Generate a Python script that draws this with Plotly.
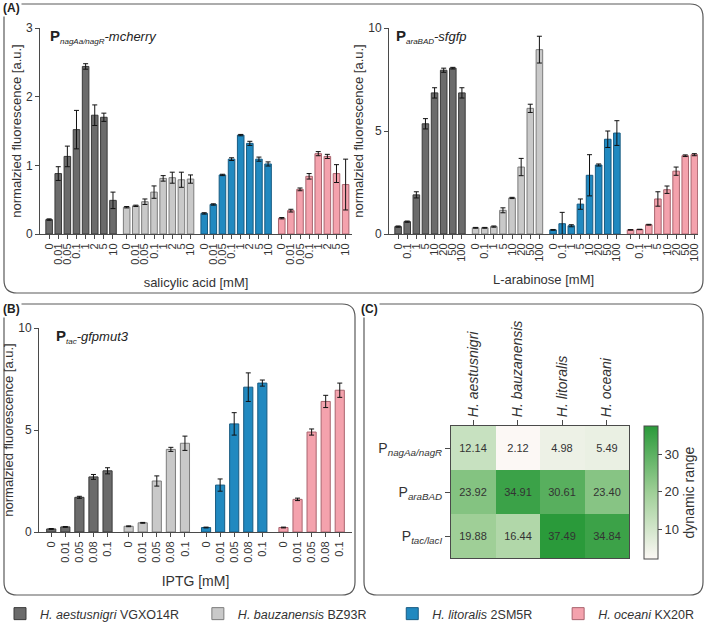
import plotly.graph_objects as go

W, H = 709, 633

# ---------------- data ----------------
strain_names = ["<i>H. aestusnigri</i> VGXO14R", "<i>H. bauzanensis</i> BZ93R",
                "<i>H. litoralis</i> 2SM5R", "<i>H. oceani</i> KX20R"]
legend_pad = [4, 6, 6]  # extra spacing (non-breaking spaces) after legend labels
fill_colors = ["#6b6b6b", "#c9c9c9", "#2189c0", "#f4a2ad"]
edge_colors = ["#3a3a3a", "#7c7c7c", "#185b82", "#a9646e"]

# (A) salicylic acid
sal_conc = ["0", "0.01", "0.05", "0.1", "1", "2", "5", "10"]
sal_aestusnigri = [0.21, 0.88, 1.13, 1.52, 2.44, 1.73, 1.70, 0.49]
sal_aestusnigri_err = [0.01, 0.10, 0.15, 0.28, 0.04, 0.15, 0.06, 0.12]
sal_bauzanensis = [0.39, 0.41, 0.47, 0.61, 0.81, 0.82, 0.79, 0.80]
sal_bauzanensis_err = [0.01, 0.01, 0.04, 0.09, 0.04, 0.08, 0.11, 0.06]
sal_litoralis = [0.30, 0.43, 0.86, 1.09, 1.44, 1.32, 1.09, 1.02]
sal_litoralis_err = [0.01, 0.01, 0.01, 0.02, 0.01, 0.03, 0.03, 0.03]
sal_oceani = [0.23, 0.34, 0.65, 0.84, 1.17, 1.13, 0.88, 0.72]
sal_oceani_err = [0.01, 0.02, 0.02, 0.04, 0.03, 0.03, 0.13, 0.37]

# (A) L-arabinose
ara_conc = ["0", "0.1", "1", "5", "10", "20", "50", "100"]
ara_aestusnigri = [0.36, 0.60, 1.90, 5.35, 6.85, 7.95, 8.05, 6.85]
ara_aestusnigri_err = [0.03, 0.03, 0.15, 0.25, 0.25, 0.10, 0.04, 0.25]
ara_bauzanensis = [0.30, 0.30, 0.36, 1.15, 1.75, 3.25, 6.10, 8.95]
ara_bauzanensis_err = [0.02, 0.02, 0.03, 0.12, 0.03, 0.42, 0.20, 0.65]
ara_litoralis = [0.20, 0.50, 0.40, 1.45, 2.85, 3.35, 4.60, 4.90]
ara_litoralis_err = [0.02, 0.55, 0.05, 0.25, 1.00, 0.05, 0.40, 0.60]
ara_oceani = [0.20, 0.22, 0.45, 1.70, 2.15, 3.05, 3.80, 3.85]
ara_oceani_err = [0.01, 0.01, 0.02, 0.35, 0.18, 0.20, 0.04, 0.05]

# (B) IPTG
iptg_conc = ["0", "0.01", "0.05", "0.08", "0.1"]
iptg_aestusnigri = [0.15, 0.25, 1.70, 2.70, 3.00]
iptg_aestusnigri_err = [0.02, 0.02, 0.05, 0.12, 0.15]
iptg_bauzanensis = [0.28, 0.45, 2.50, 4.05, 4.35]
iptg_bauzanensis_err = [0.02, 0.02, 0.25, 0.10, 0.35]
iptg_litoralis = [0.22, 2.30, 5.30, 7.10, 7.30]
iptg_litoralis_err = [0.02, 0.30, 0.55, 0.70, 0.15]
iptg_oceani = [0.22, 1.60, 4.90, 6.40, 6.95]
iptg_oceani_err = [0.02, 0.06, 0.15, 0.30, 0.35]

# (C) dynamic range
heat_species = ["<i>H. aestusnigri</i>", "<i>H. bauzanensis</i>",
                "<i>H. litoralis</i>", "<i>H. oceani</i>"]
heat_promoters = ["P<sub><i>nagAa/nagR</i></sub>", "P<sub><i>araBAD</i></sub>",
                  "P<sub><i>tac/lacI</i></sub>"]
dr_nagAa = [12.14, 2.12, 4.98, 5.49]
dr_araBAD = [23.92, 34.91, 30.61, 23.40]
dr_tac = [19.88, 16.44, 37.49, 34.84]

# ---------------- helpers ----------------
def px(x):
    return x / W

def py(y):
    return 1 - y / H

FONT = "Arial, Liberation Sans, Helvetica, sans-serif"
AX = "#4a4a4a"
TXT = "#333333"

fig = go.Figure()

panels = [
    ("x", "y", sal_conc, [sal_aestusnigri, sal_bauzanensis, sal_litoralis, sal_oceani],
     [sal_aestusnigri_err, sal_bauzanensis_err, sal_litoralis_err, sal_oceani_err], 0.72, True),
    ("x2", "y2", ara_conc, [ara_aestusnigri, ara_bauzanensis, ara_litoralis, ara_oceani],
     [ara_aestusnigri_err, ara_bauzanensis_err, ara_litoralis_err, ara_oceani_err], 0.72, False),
    ("x3", "y3", iptg_conc, [iptg_aestusnigri, iptg_bauzanensis, iptg_litoralis, iptg_oceani],
     [iptg_aestusnigri_err, iptg_bauzanensis_err, iptg_litoralis_err, iptg_oceani_err], 0.65, False),
]

tick_info = {}
for xa, ya, conc, series, errs, bw, show in panels:
    n = len(conc)
    tv, tt = [], []
    for g, (vals, ev) in enumerate(zip(series, errs)):
        xs = [g * (n + 0.5) + i for i in range(n)]
        tv += xs
        tt += conc
        pad = "\u00a0" * (legend_pad[g] if g < len(legend_pad) else 0)
        fig.add_trace(go.Bar(
            x=xs, y=vals, width=bw, xaxis=xa, yaxis=ya,
            name=strain_names[g] + pad, showlegend=show, legendgroup=str(g),
            marker=dict(color=fill_colors[g], line=dict(color=edge_colors[g], width=1)),
            error_y=dict(type="data", array=ev, visible=True, color="#111111",
                         thickness=1, width=2.5),
        ))
    tick_info[xa] = (tv, tt, n)

fig.add_trace(go.Heatmap(
    z=[dr_nagAa, dr_araBAD, dr_tac], x=heat_species, y=heat_promoters,
    xaxis="x4", yaxis="y4",
    colorscale=[[0, "#fcf8f5"], [0.5, "#9fcf97"], [1, "#2a9a3a"]],
    zmin=min(dr_nagAa + dr_araBAD + dr_tac), zmax=max(dr_nagAa + dr_araBAD + dr_tac),
    texttemplate="%{z:.2f}", textfont=dict(size=11, color=TXT, family=FONT),
    showscale=True, xgap=0, ygap=0,
    colorbar=dict(x=px(644), xanchor="left", xpad=0, ypad=0, thickness=14,
                  thicknessmode="pixels", len=133 / H, lenmode="fraction",
                  y=py(492.5), yanchor="middle",
                  outlinewidth=1, outlinecolor=AX, tickvals=[10, 20, 30],
                  ticks="outside", ticklen=4, tickcolor=AX,
                  tickfont=dict(size=13, color=TXT, family=FONT),
                  title=dict(text="dynamic range", side="right",
                             font=dict(size=14, color=TXT, family=FONT))),
))

def xbar_axis(xa, dom, rng, title, tfs):
    tv, tt, n = tick_info[xa]
    return dict(domain=dom, range=rng, tickvals=tv, ticktext=tt, tickangle=-90,
                ticks="outside", ticklen=4, tickcolor=AX, showline=True, linecolor=AX,
                linewidth=1, showgrid=False, zeroline=False, automargin=False,
                tickfont=dict(size=11, color=TXT, family=FONT),
                title=dict(text=title, font=dict(size=tfs, color=TXT, family=FONT), standoff=14))

def ybar_axis(dom, rng, tv, anchor):
    return dict(domain=dom, range=rng, tickvals=tv, ticks="outside", ticklen=4,
                tickcolor=AX, showline=True, linecolor=AX, linewidth=1, showgrid=False,
                zeroline=False, automargin=False, anchor=anchor,
                tickfont=dict(size=12, color=TXT, family=FONT),
                title=dict(text="normalzied fluorescence [a.u.]",
                           font=dict(size=13, color=TXT, family=FONT), standoff=1))

fig.update_layout(
    width=W, height=H, margin=dict(l=0, r=0, t=0, b=0, autoexpand=False),
    paper_bgcolor="white", plot_bgcolor="white", barmode="overlay",
    font=dict(family=FONT, color=TXT),
    xaxis=dict(**xbar_axis("x", [px(40), px(352)], [-1, 33.2], "salicylic acid [mM]", 13), anchor="y"),
    yaxis=ybar_axis([py(234), py(28)], [0, 3], [0, 1, 2, 3], "x"),
    xaxis2=dict(**xbar_axis("x2", [px(389), px(698)], [-1, 32.9], "L-arabinose [mM]", 13), anchor="y2"),
    yaxis2=ybar_axis([py(234), py(28)], [0, 10], [0, 5, 10], "x2"),
    xaxis3=dict(**xbar_axis("x3", [px(39), px(352)], [-0.87, 21.37], "IPTG [mM]", 14), anchor="y3"),
    yaxis3=ybar_axis([py(532), py(328)], [0, 10], [0, 5, 10], "x3"),
    xaxis4=dict(domain=[px(451), px(629)], anchor="y4", side="top", tickangle=-90,
                ticks="outside", ticklen=5, tickcolor=AX, showline=True, mirror=True,
                linecolor=AX, linewidth=1, showgrid=False, automargin=False,
                tickfont=dict(size=14, color=TXT, family=FONT)),
    yaxis4=dict(domain=[py(558), py(426)], anchor="x4", autorange="reversed",
                ticks="outside", ticklen=5, tickcolor=AX, showline=True, mirror=True,
                linecolor=AX, linewidth=1, showgrid=False, automargin=False,
                tickfont=dict(size=14, color=TXT, family=FONT)),
    legend=dict(orientation="h", x=px(0), xanchor="left", y=py(599), yanchor="top",
                font=dict(size=12.5, color=TXT, family=FONT), traceorder="normal",
                itemwidth=30, bgcolor="rgba(0,0,0,0)"),
)

# rounded panel frames
def rounded(x0, y0, x1, y1, r):
    p = [
        f"M {px(x0 + r)},{py(y0)}", f"L {px(x1 - r)},{py(y0)}",
        f"Q {px(x1)},{py(y0)} {px(x1)},{py(y0 + r)}", f"L {px(x1)},{py(y1 - r)}",
        f"Q {px(x1)},{py(y1)} {px(x1 - r)},{py(y1)}", f"L {px(x0 + r)},{py(y1)}",
        f"Q {px(x0)},{py(y1)} {px(x0)},{py(y1 - r)}", f"L {px(x0)},{py(y0 + r)}",
        f"Q {px(x0)},{py(y0)} {px(x0 + r)},{py(y0)}", "Z",
    ]
    return dict(type="path", path=" ".join(p), xref="paper", yref="paper",
                line=dict(color="#5a5a5a", width=1.2), layer="below")

fig.add_shape(**rounded(4, 4, 703, 293, 13))
fig.add_shape(**rounded(4, 304, 355, 595, 13))
fig.add_shape(**rounded(364, 304, 703, 595, 13))

def ann(text, x, y, size, xanchor="left", yanchor="middle", bg=None):
    fig.add_annotation(text=text, x=px(x), y=py(y), xref="paper", yref="paper",
                       showarrow=False, xanchor=xanchor, yanchor=yanchor,
                       font=dict(size=size, color="#222222", family=FONT),
                       bgcolor=bg, borderpad=1)

ann("<b>(A)</b>", 1, 8, 12, bg="white")
ann("<b>(B)</b>", 1, 309, 12, bg="white")
ann("<b>(C)</b>", 359, 309, 12, bg="white")

def construct(prom, gene):
    return ('<span style="font-size:15px"><b>P</b></span>'
            f'<sub><span style="font-size:8px"><i>{prom}</i></span></sub>'
            f'<i>-{gene}</i>')

ann(construct("nagAa/nagR", "mcherry"), 48, 37, 13)
ann(construct("araBAD", "sfgfp"), 394, 37, 13)
ann(construct("tac", "gfpmut3"), 54, 336, 13)

fig.write_html("out.html", config={"displayModeBar": False},
               post_script="document.body.style.margin='0';document.body.style.padding='0';")
